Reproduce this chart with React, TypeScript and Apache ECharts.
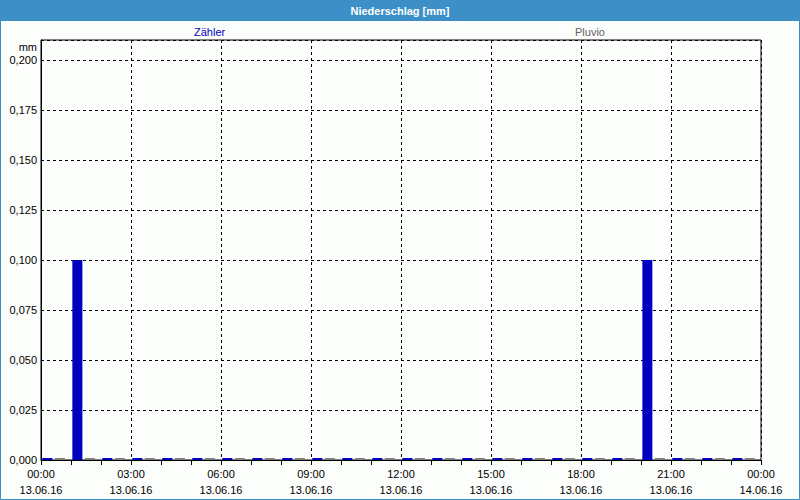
import React, { useEffect, useRef } from "react";
import * as echarts from "echarts";

const hours = [0, 1, 2, 3, 4, 5, 6, 7, 8, 9, 10, 11, 12, 13, 14, 15, 16, 17, 18, 19, 20, 21, 22, 23];
const zaehlerValues = [0, 0.1, 0, 0, 0, 0, 0, 0, 0, 0, 0, 0, 0, 0, 0, 0, 0, 0, 0, 0, 0.1, 0, 0, 0];
const pluvioValues = [0, 0, 0, 0, 0, 0, 0, 0, 0, 0, 0, 0, 0, 0, 0, 0, 0, 0, 0, 0, 0, 0, 0, 0];
const xTickTimes = ["00:00", "03:00", "06:00", "09:00", "12:00", "15:00", "18:00", "21:00", "00:00"];
const xTickDates = ["13.06.16", "13.06.16", "13.06.16", "13.06.16", "13.06.16", "13.06.16", "13.06.16", "13.06.16", "14.06.16"];
const barTimeOffset = 0.42; // position of the hourly bar pair inside its hour

const FONT = "Liberation Sans";

export default function App() {
  const ref = useRef<HTMLDivElement>(null);
  useEffect(() => {
    if (!ref.current) return;
    const chart = echarts.init(ref.current, null, { renderer: "svg" });
    const legendCommon = {
      icon: "rect",
      itemWidth: 0,
      itemHeight: 0,
      itemGap: 0,
      itemStyle: { opacity: 0, borderWidth: 0 },
      lineStyle: { opacity: 0, width: 0 },
      top: 26,
      padding: 0,
      textStyle: { fontFamily: FONT, fontSize: 11, padding: 0 },
      selectedMode: false,
    };
    chart.setOption({
      animation: false,
      backgroundColor: "#fcfefc",
      textStyle: { fontFamily: FONT, fontSize: 11 },
      graphic: [
        {
          type: "rect",
          shape: { x: 0, y: 0, width: 800, height: 21 },
          style: { fill: "#3c90c7" },
          z: 0,
        },
        {
          type: "rect",
          shape: { x: 0.5, y: 0.5, width: 799, height: 499 },
          style: { fill: "none", stroke: "#3c90c7", lineWidth: 1 },
          z: 0,
        },
        {
          type: "text",
          x: 400,
          y: 10.5,
          style: {
            text: "Niederschlag [mm]",
            fill: "#ffffff",
            font: `bold 11px "${FONT}"`,
            align: "center",
            verticalAlign: "middle",
          },
          z: 1,
        },
      ],
      legend: [
        {
          ...legendCommon,
          data: [{ name: "Zähler", textStyle: { color: "#0000c0" } }],
          left: 189,
        },
        {
          ...legendCommon,
          data: [{ name: "Pluvio", textStyle: { color: "#606060" } }],
          left: 570,
        },
      ],
      grid: {
        left: 41,
        right: 39,
        top: 40,
        bottom: 40,
        show: true,
        borderColor: "#000",
        borderWidth: 1,
        backgroundColor: "#fcfefc",
      },
      xAxis: {
        type: "value",
        min: 0,
        max: 24,
        interval: 3,
        axisLine: { show: true, lineStyle: { color: "#000", width: 1 } },
        axisTick: { show: true, length: 5, lineStyle: { color: "#000" } },
        minorTick: { show: true, splitNumber: 3, length: 5, lineStyle: { color: "#000" } },
        splitLine: { show: true, lineStyle: { color: "#000", type: [3, 3], width: 1 } },
        axisLabel: {
          color: "#000",
          fontFamily: FONT,
          fontSize: 11,
          lineHeight: 16,
          margin: 6,
          formatter: (v: number) => {
            const i = Math.round(v / 3);
            return `${xTickTimes[i]}\n${xTickDates[i]}`;
          },
        },
      },
      yAxis: {
        type: "value",
        min: 0,
        max: 0.21,
        interval: 0.025,
        name: "mm",
        nameLocation: "end",
        nameGap: -7,
        nameTextStyle: { color: "#000", align: "right", verticalAlign: "middle", padding: [0, 4, 0, 0], fontFamily: FONT, fontSize: 11 },
        axisLine: { show: true, lineStyle: { color: "#000", width: 1 } },
        axisTick: { show: false },
        splitLine: { show: true, lineStyle: { color: "#000", type: [3, 3], width: 1 } },
        axisLabel: {
          color: "#000",
          fontFamily: FONT,
          fontSize: 11,
          margin: 4,
          showMaxLabel: false,
          formatter: (v: number) => {
            const k = v / 0.025;
            if (Math.abs(k - Math.round(k)) > 1e-6) return "";
            return v.toFixed(3).replace(".", ",");
          },
        },
      },
      series: [
        {
          name: "Zähler",
          type: "bar",
          data: hours.map((h, i) => [h + barTimeOffset, zaehlerValues[i]]),
          barWidth: 10,
          barGap: "25%",
          barMinHeight: 2,
          itemStyle: { color: "#0000c0" },
        },
        {
          name: "Pluvio",
          type: "bar",
          data: hours.map((h, i) => [h + barTimeOffset, pluvioValues[i]]),
          barWidth: 10,
          barGap: "25%",
          barMinHeight: 2,
          itemStyle: { color: "#808080" },
        },
      ],
    });
    return () => chart.dispose();
  }, []);
  return (
    <div
      ref={ref}
      style={{ position: "fixed", left: 0, top: 0, width: 800, height: 500 }}
    />
  );
}
